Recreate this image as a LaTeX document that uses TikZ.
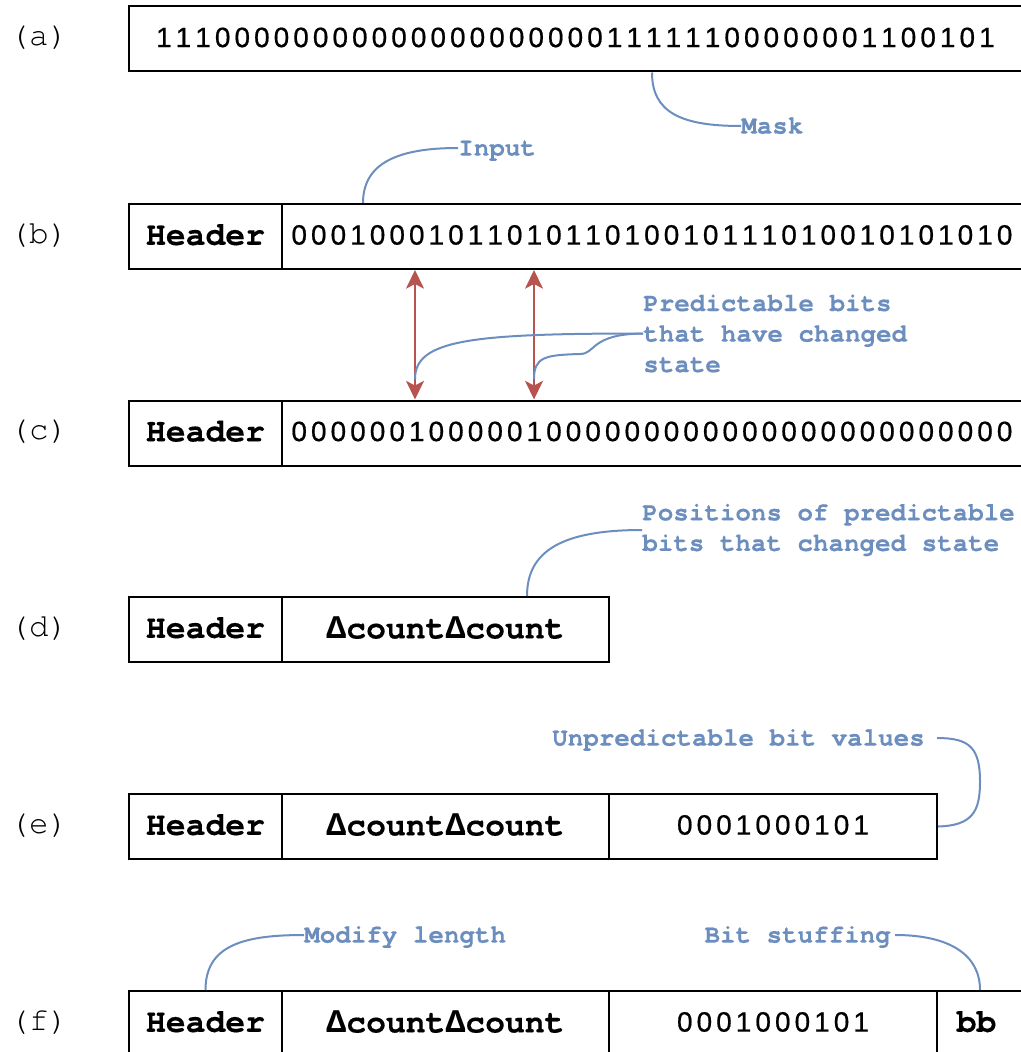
\documentclass[tikz,border=0pt]{standalone}
\usepackage{fontspec}
\usetikzlibrary{arrows.meta}
\newfontfamily\bitfont{Liberation Sans}[FakeBold=0.6]
\newfontfamily\cnfont{texgyrecursor}[Extension=.otf,UprightFont=*-regular,BoldFont=*-bold,Ligatures=NoCommon,BoldFeatures={FakeBold=0.3}]
\newfontfamily\dltfont{Liberation Mono}
\newcommand\dlt{{\dltfont\bfseries Δ}}
\definecolor{callblue}{HTML}{6C8EBF}
\definecolor{arrred}{HTML}{B85450}
\newlength\bitw
\setlength\bitw{14.7pt}
\newcommand\bitstr[1]{\bitloop#1\relax}
\def\bitloop#1{\ifx\relax#1\else\makebox[\bitw][c]{#1}\expandafter\bitloop\fi}
\begin{document}
\begin{tikzpicture}[x=0.75pt,y=-0.75pt,
 cell/.style={draw=black,line width=1.5pt,minimum height=48.75pt,inner sep=0pt,anchor=north west},
 hdr/.style={cell,font=\cnfont\bfseries\fontsize{24.8}{28}\selectfont,text depth=3pt},
 bitcell/.style={cell,font=\bitfont\fontsize{21}{24}\selectfont,text depth=2.5pt},
 rowlab/.style={font=\cnfont\fontsize{24.4}{28}\selectfont,inner sep=0pt},
 calltext/.style={font=\cnfont\bfseries\fontsize{19.4}{22.9}\selectfont,text=callblue,inner sep=0pt},
 oneline/.style={calltext,text height=11.4pt,text depth=0pt},
 leadline/.style={draw=callblue,line width=1.5pt},
 chgarrow/.style={draw=arrred,line width=1.5pt,{Stealth[length=14pt,width=13.5pt,inset=3.5pt]}-{Stealth[length=14pt,width=13.5pt,inset=3.5pt]}}]
\useasboundingbox (0,0) rectangle (1020,1052);
% row labels
\node[rowlab] (la) at (39,38) {(a)};
\node[rowlab] (lb) at (39,235.5) {(b)};
\node[rowlab] (lc) at (39,432) {(c)};
\node[rowlab] (ld) at (39,628.5) {(d)};
\node[rowlab] (le) at (39,825.5) {(e)};
\node[rowlab] (lf) at (39,1022.5) {(f)};
% row a
\node[bitcell,minimum width=893*0.75pt] (aMask) at (128,5.5) {\bitstr{1110000000000000000000011111100000001100101}};
% row b
\node[hdr,minimum width=153*0.75pt] (bHdr) at (128,203) {Header};
\node[bitcell,minimum width=740*0.75pt] (bBits) at (281,203) {\bitstr{0001000101101011010010111010010101010}};
% row c
\node[hdr,minimum width=153*0.75pt] (cHdr) at (128,399.5) {Header};
\node[bitcell,minimum width=740*0.75pt] (cBits) at (281,399.5) {\bitstr{0000001000001000000000000000000000000}};
% row d
\node[hdr,minimum width=153*0.75pt] (dHdr) at (128,596) {Header};
\node[hdr,minimum width=327*0.75pt] (dCnt) at (281,596) {\dlt count\dlt count};
% row e
\node[hdr,minimum width=153*0.75pt] (eHdr) at (128,793) {Header};
\node[hdr,minimum width=327*0.75pt] (eCnt) at (281,793) {\dlt count\dlt count};
\node[bitcell,minimum width=328*0.75pt] (eBits) at (608,793) {\bitstr{0001000101}};
% row f
\node[hdr,minimum width=153*0.75pt] (fHdr) at (128,990) {Header};
\node[hdr,minimum width=327*0.75pt] (fCnt) at (281,990) {\dlt count\dlt count};
\node[bitcell,minimum width=328*0.75pt] (fBits) at (608,990) {\bitstr{0001000101}};
\node[hdr,minimum width=85*0.75pt] (fBB) at (936,990) {bb\hspace*{4.5pt}};
% callout texts
\node[oneline,anchor=west] (mask) at (741,126) {Mask};
\node[oneline,anchor=west] (input) at (458,148) {Input};
\node[calltext,anchor=west,align=left] (pred) at (643,333.5) {Predictable bits\\that have changed\\state};
\node[calltext,anchor=west,align=left] (posn) at (642,530) {Positions of predictable\\bits that changed state};
\node[oneline,anchor=east] (unp) at (925,738) {Unpredictable bit values};
\node[oneline,anchor=west] (modlen) at (304,935) {Modify length};
\node[oneline,anchor=east] (bstuff) at (891,935) {Bit stuffing};
% changed-bit arrows
\draw[chgarrow] ([xshift=100.5pt]bBits.south west) -- ([xshift=100.5pt]cBits.north west);
\draw[chgarrow] ([xshift=189.75pt]bBits.south west) -- ([xshift=189.75pt]cBits.north west);
% leader lines
\coordinate (p1) at (415,379);
\coordinate (p2) at (534,379);
\draw[leadline] ([xshift=393pt]aMask.south west) .. controls +(0,40) and +(-60,0) .. (mask.west);
\draw[leadline] ([xshift=61.5pt]bBits.north west) .. controls +(0,-40) and +(-60,0) .. (input.west);
\draw[leadline] (p1) .. controls (415,340) and (470,333.5) .. (pred.west);
\draw[leadline] (p2) .. controls (534,357) and (545,355) .. (580,354) .. controls (596,354) and (590,334) .. (pred.west);
\draw[leadline] ([xshift=184.5pt]dCnt.north west) .. controls +(0,-45) and +(-80,0) .. (posn.west);
\draw[leadline] (eBits.east) .. controls (972,825.5) and (980,812) .. (980,782) .. controls (980,748) and (970,738) .. ([xshift=9pt]unp.east);
\draw[leadline] (fHdr.north) .. controls +(0,-45) and +(-60,0) .. (modlen.west);
\draw[leadline] ([xshift=3pt]bstuff.east) .. controls +(55,0) and +(0,-35) .. ([xshift=33pt]fBB.north west);
\end{tikzpicture}
\end{document}
